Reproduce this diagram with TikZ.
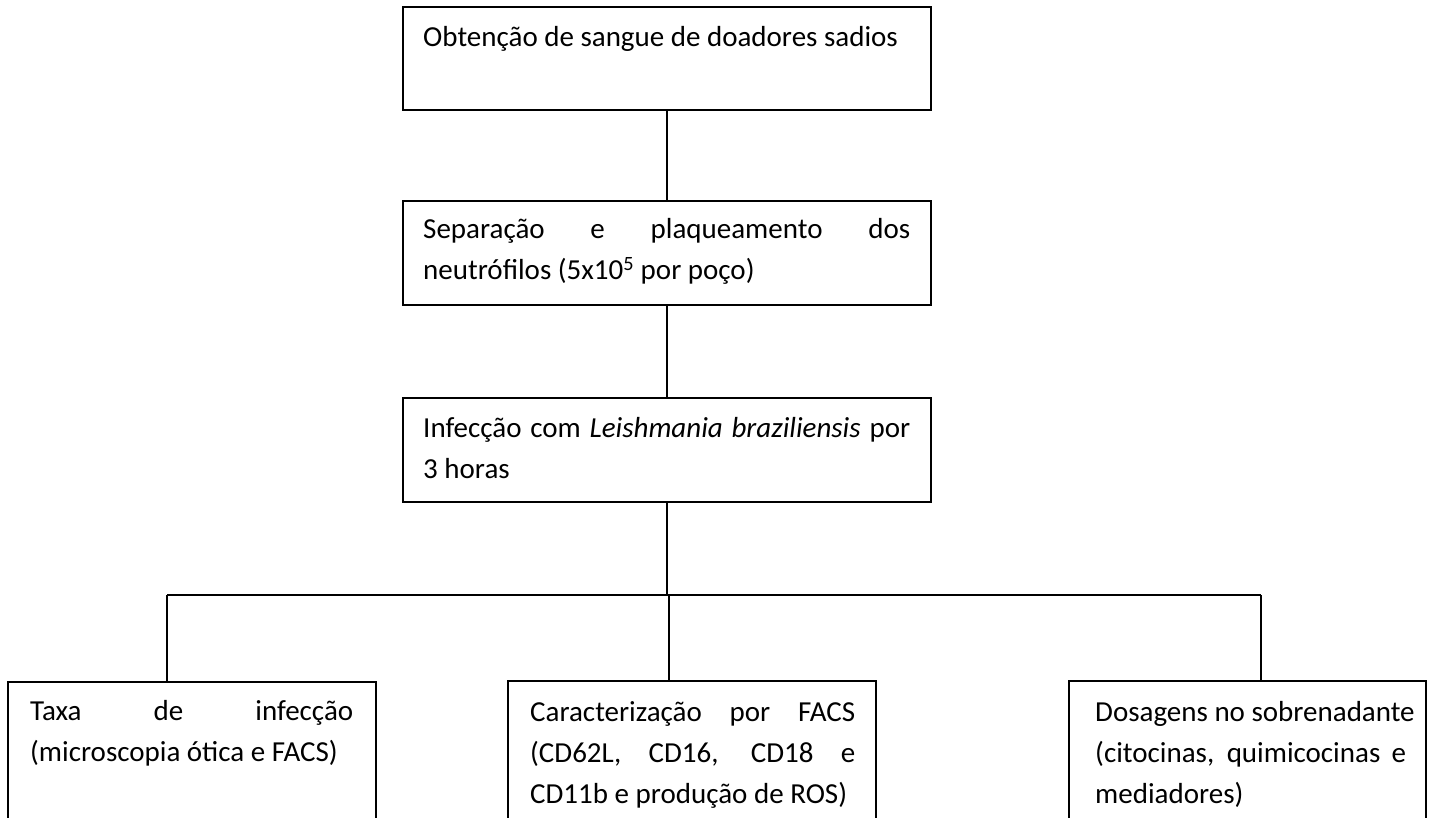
\documentclass[tikz,border=0pt]{standalone}
\usepackage{fontspec}
\setmainfont{Carlito}
\hyphenpenalty=10000
\exhyphenpenalty=10000
\tolerance=10000
\newcommand{\fullline}[2]{\makebox[#1][s]{#2}}
\begin{document}
\begin{tikzpicture}[x=1pt,y=-1pt,
  font=\fontsize{29}{41}\selectfont,
  stepbox/.style={draw, line width=1.6pt, inner sep=0pt, rectangle},
  txt/.style={inner sep=0pt, anchor=base west},
  conn/.style={line width=1.6pt}]
\clip (0,0) rectangle (1445,818);
\fill[white] (0,0) rectangle (1445,818);
% boxes
\node[stepbox, minimum width=528pt, minimum height=103pt] (b1) at (667,58.5) {};
\node[stepbox, minimum width=528pt, minimum height=104pt] (b2) at (667,253) {};
\node[stepbox, minimum width=528pt, minimum height=104pt] (b3) at (667,450) {};
\node[stepbox, minimum width=368pt, minimum height=178pt] (b4) at (192,771) {};
\node[stepbox, minimum width=368pt, minimum height=178pt] (b5) at (692,770) {};
\node[stepbox, minimum width=357pt, minimum height=178pt] (b6) at (1247.5,770) {};
% texts
\node[txt] (t1) at (423,47) {\parbox[t]{500pt}{Obtenção de sangue de doadores sadios}};
\node[txt] (t2) at (423,239) {\parbox[t]{500pt}{\fullline{487pt}{Separação e plaqueamento dos}\\neutrófilos (5x10\textsuperscript{5} por poço)}};
\node[txt] (t3) at (423,437) {\parbox[t]{500pt}{\fullline{487pt}{Infecção com \textit{Leishmania braziliensis} por}\\3 horas}};
\node[txt] (t4) at (30,720) {\parbox[t]{340pt}{\fullline{323pt}{Taxa de infecção}\\(microscopia ótica e FACS)}};
\node[txt] (t5) at (530,721) {\parbox[t]{340pt}{\fullline{325pt}{Caracterização por FACS}\\\fullline{325pt}{(CD62L, CD16, CD18 e}\\CD11b e produção de ROS)}};
\node[txt] (t6) at (1095,721) {\parbox[t]{340pt}{Dosagens no sobrenadante\\\fullline{311pt}{(citocinas, quimicocinas e}\\mediadores)}};
% connectors
\coordinate (jl) at (167,595);
\coordinate (jr) at (1261,595);
\coordinate (jm) at (669,595);
\draw[conn] (b1.south) -- (b2.north);
\draw[conn] (b2.south) -- (b3.north);
\draw[conn] (b3.south) -- (b3.south |- jm);
\draw[conn] (jl) -- (jr);
\draw[conn] (jl) -- (jl |- b4.north);
\draw[conn] (jm) -- (jm |- b5.north);
\draw[conn] (jr) -- (jr |- b6.north);
\end{tikzpicture}
\end{document}
